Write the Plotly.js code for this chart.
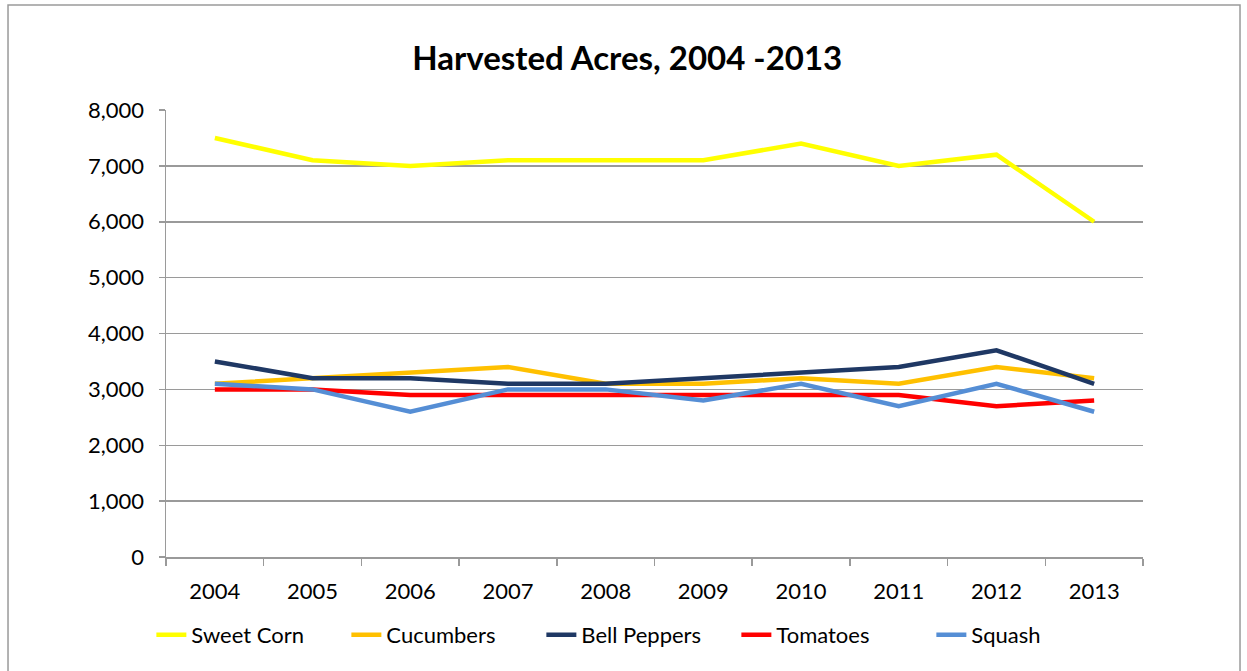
<!DOCTYPE html>
<html>
<head>
<meta charset="utf-8">
<script src="https://cdn.plot.ly/plotly-3.0.1.min.js"></script>
<style>html,body{margin:0;padding:0;background:#fff;}#chart{width:1247px;height:671px;}</style>
</head>
<body>
<div id="chart"></div>
<script>
const years = ['2004','2005','2006','2007','2008','2009','2010','2011','2012','2013'];
const sweetCorn   = [7500, 7100, 7000, 7100, 7100, 7100, 7400, 7000, 7200, 6000];
const cucumbers   = [3100, 3200, 3300, 3400, 3100, 3100, 3200, 3100, 3400, 3200];
const bellPeppers = [3500, 3200, 3200, 3100, 3100, 3200, 3300, 3400, 3700, 3100];
const tomatoes    = [3000, 3000, 2900, 2900, 2900, 2900, 2900, 2900, 2700, 2800];
const squash      = [3100, 3000, 2600, 3000, 3000, 2800, 3100, 2700, 3100, 2600];

const seriesNames = ['Sweet Corn','Cucumbers','Bell Peppers','Tomatoes','Squash'];
const seriesData = [sweetCorn, cucumbers, bellPeppers, tomatoes, squash];
const colors = ['#FFFF00','#FFC000','#1F3864','#FF0000','#558ED5'];

const traces = seriesNames.map((n,i)=>({
  type:'scatter', mode:'lines', name:n, x:years, y:seriesData[i],
  line:{color:colors[i], width:4.5}
}));

const font = 'Lato, "Open Sans", sans-serif';
const gray = '#9A9A9A';
const layout = {
  width:1247, height:671,
  margin:{l:166, r:104, t:110, b:114},
  paper_bgcolor:'#fff', plot_bgcolor:'#fff',
  font:{family:font, size:22, color:'#000'},
  title:{text:'<b>Harvested Acres, 2004 -2013</b>', font:{family:font, size:33, color:'#000'}, x:0.503, xanchor:'center', y:0.913, yanchor:'middle'},
  xaxis:{type:'category', range:[-0.5, 9.5], showgrid:false, showline:true, linecolor:gray, linewidth:1.5,
    ticks:'outside', ticklen:7, tickcolor:gray, tickwidth:1.5, tickson:'boundaries',
    ticklabelstandoff:14, tickfont:{size:22}, zeroline:false, fixedrange:true},
  yaxis:{range:[0,8000], dtick:1000, tickformat:',', showgrid:true, gridcolor:gray, gridwidth:1.5,
    showline:true, linecolor:gray, linewidth:1.5, ticks:'outside', ticklen:6, tickcolor:gray, tickwidth:1.5,
    ticklabelstandoff:10, tickfont:{size:22}, zeroline:false, fixedrange:true},
  showlegend:true,
  legend:{orientation:'h', x:0.484, xanchor:'center', y:-0.1745, yanchor:'middle',
    font:{size:22}, tracegroupgap:0, entrywidth:150, entrywidthmode:'pixels'},
  shapes:[{type:'rect', xref:'paper', yref:'paper', x0:-0.1617, x1:1.0993, y0:-0.30, y1:1.2349,
    line:{color:gray, width:1.5}, fillcolor:'rgba(0,0,0,0)', layer:'below'}]
};
Plotly.newPlot('chart', traces, layout, {displayModeBar:false, staticPlot:true});
</script>
</body>
</html>
